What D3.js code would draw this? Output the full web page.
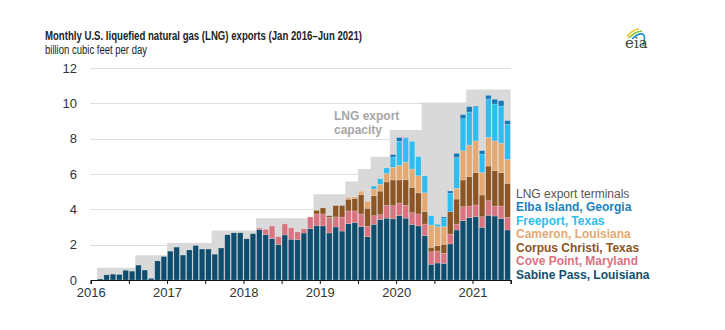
<!DOCTYPE html>
<html>
<head>
<meta charset="utf-8">
<script src="https://cdn.jsdelivr.net/npm/d3@7"></script>
<style>
  body { margin: 0; background: #fff; }
  svg { display: block; }
  text { font-family: "Liberation Sans", Arial, Helvetica, sans-serif; }
</style>
</head>
<body>
<svg id="chart" width="725" height="330"></svg>
<script>
// Months Jan 2016 – Jun 2021
const months = d3.timeMonth.range(new Date(2016, 0, 1), new Date(2021, 6, 1)).map(d3.timeFormat("%Y-%m"));

// Exports by terminal, billion cubic feet per day
const sabinePass = [
  0.00, 0.06, 0.29, 0.33, 0.31, 0.55, 0.50, 0.84, 0.56, 0.09, 1.08, 1.33,
  1.63, 1.86, 1.41, 1.70, 1.95, 1.75, 1.75, 1.46, 1.81, 2.56, 2.67, 2.67,
  2.33, 2.62, 2.86, 2.57, 2.34, 2.01, 2.55, 2.31, 2.28, 2.66, 2.91, 3.08,
  3.06, 2.66, 3.00, 2.77, 3.19, 3.25, 3.02, 2.45, 3.15, 3.43, 3.50, 3.46,
  3.65, 3.50, 3.14, 3.06, 2.51, 0.89, 0.96, 0.94, 2.04, 2.83, 3.36, 3.53,
  3.58, 2.98, 3.66, 3.62, 3.47, 2.83
];
const covePoint = [
  0, 0, 0, 0, 0, 0, 0, 0, 0, 0, 0, 0,
  0, 0, 0, 0, 0, 0, 0, 0, 0, 0, 0, 0,
  0, 0, 0.08, 0.29, 0.72, 0.44, 0.62, 0.64, 0.44, 0.23, 0.66, 0.66,
  0.68, 0.89, 0.57, 0.79, 0.72, 0.66, 0.72, 0.59, 0.49, 0.27, 0.72, 0.75,
  0.71, 0.73, 0.67, 0.68, 0.66, 0.71, 0.68, 0.57, 0.56, 0.34, 0.79, 0.66,
  0.67, 0.60, 0.83, 0.57, 0.72, 0.72
];
const corpusChristi = [
  0, 0, 0, 0, 0, 0, 0, 0, 0, 0, 0, 0,
  0, 0, 0, 0, 0, 0, 0, 0, 0, 0, 0, 0,
  0, 0, 0, 0, 0, 0, 0, 0, 0, 0, 0, 0.20,
  0.34, 0.09, 0.64, 0.65, 0.66, 0.71, 1.09, 1.02, 1.13, 1.33, 1.33, 1.45,
  1.30, 1.44, 1.43, 1.19, 0.70, 0.25, 0.30, 0.51, 1.27, 1.41, 1.51, 1.66,
  1.83, 1.23, 1.96, 2.00, 1.89, 1.92
];
const cameron = [
  0, 0, 0, 0, 0, 0, 0, 0, 0, 0, 0, 0,
  0, 0, 0, 0, 0, 0, 0, 0, 0, 0, 0, 0,
  0, 0, 0, 0, 0, 0, 0, 0, 0, 0, 0, 0,
  0, 0, 0, 0, 0.09, 0.08, 0.19, 0.39, 0.38, 0.39, 0.48, 0.72,
  0.83, 1.00, 1.04, 0.97, 1.07, 1.26, 1.08, 1.00, 0.00, 0.61, 1.66, 1.79,
  1.79, 1.27, 1.63, 1.68, 1.66, 1.36
];
const freeport = [
  0, 0, 0, 0, 0, 0, 0, 0, 0, 0, 0, 0,
  0, 0, 0, 0, 0, 0, 0, 0, 0, 0, 0, 0,
  0, 0, 0, 0, 0, 0, 0, 0, 0, 0, 0, 0,
  0, 0, 0, 0, 0, 0, 0, 0, 0.17, 0.31, 0.31, 0.58,
  1.37, 1.37, 1.57, 1.08, 0.95, 0.53, 0.13, 0.49, 1.04, 1.75, 1.81, 1.87,
  1.94, 1.05, 2.17, 2.09, 2.11, 1.98
];
const elbaIsland = [
  0, 0, 0, 0, 0, 0, 0, 0, 0, 0, 0, 0,
  0, 0, 0, 0, 0, 0, 0, 0, 0, 0, 0, 0,
  0, 0, 0, 0, 0, 0, 0, 0, 0, 0, 0, 0,
  0, 0, 0, 0, 0, 0, 0, 0, 0, 0, 0, 0.14,
  0.20, 0.02, 0, 0, 0, 0, 0, 0.06, 0.13, 0.23, 0.23, 0.30,
  0.04, 0.19, 0.20, 0.27, 0.30, 0.21
];

// Export capacity: month in which each level begins
const capacityStartMonths = ["2016-02", "2016-08", "2017-01", "2017-08", "2018-03", "2018-12",
                             "2019-05", "2019-07", "2019-09", "2019-12", "2020-05", "2020-12"];
const capacityLevels = [0.7, 1.4, 2.1, 2.8, 3.5, 4.85, 5.57, 6.28, 6.98, 8.49, 10.05, 10.79];

const yTickValues = [0, 2, 4, 6, 8, 10, 12];
const yearLabels = ["2016", "2017", "2018", "2019", "2020", "2021"];

const terminals = [
  { key: "sabine",  name: "Sabine Pass, Louisiana", values: sabinePass,    color: "#0e4d6d", text: "#124f6e" },
  { key: "cove",    name: "Cove Point, Maryland",   values: covePoint,     color: "#d9737f", text: "#d9737f" },
  { key: "corpus",  name: "Corpus Christi, Texas",  values: corpusChristi, color: "#8c5523", text: "#8c5523" },
  { key: "cameron", name: "Cameron, Louisiana",     values: cameron,       color: "#e4a971", text: "#e4a971" },
  { key: "freeport",name: "Freeport, Texas",        values: freeport,      color: "#30bcf0", text: "#30bcf0" },
  { key: "elba",    name: "Elba Island, Georgia",   values: elbaIsland,    color: "#1479b5", text: "#1a7fbe" }
];

(function drawChart() {
  const svg = d3.select("#chart");
  const plotLeft = 90.7, plotRight = 510.7, plotTop = 68, plotBottom = 280;

  const y = d3.scaleLinear().domain([0, 12]).range([plotBottom, plotTop]);
  const x = d3.scaleBand().domain(months).range([plotLeft, plotRight]).paddingInner(0.14).paddingOuter(0.07);
  const capX = d3.scaleBand().domain(months).range([plotLeft, plotRight]).padding(0);
  const monthAxis = d3.scaleLinear().domain([0, months.length]).range([plotLeft, plotRight]);

  // Title
  svg.append("text")
    .attr("x", 45).attr("y", 40)
    .attr("textLength", 317).attr("lengthAdjust", "spacingAndGlyphs")
    .style("font-family", '"Liberation Sans Narrow", "Arial Narrow", "Liberation Sans", Arial, sans-serif')
    .style("font-weight", "bold").style("font-size", "12.5px").attr("fill", "#222")
    .text("Monthly U.S. liquefied natural gas (LNG) exports (Jan 2016\u2013Jun 2021)");
  svg.append("text")
    .attr("x", 45).attr("y", 54)
    .attr("textLength", 102).attr("lengthAdjust", "spacingAndGlyphs")
    .style("font-family", '"Liberation Sans Narrow", "Arial Narrow", "Liberation Sans", Arial, sans-serif')
    .style("font-size", "12.5px").attr("fill", "#222")
    .text("billion cubic feet per day");

  // Gridlines
  svg.append("g")
    .selectAll("line")
    .data(yTickValues.filter(v => v > 0))
    .join("line")
    .attr("x1", plotLeft - 0.7).attr("x2", plotRight)
    .attr("y1", d => Math.round(y(d)) + 0.5).attr("y2", d => Math.round(y(d)) + 0.5)
    .attr("stroke", "#dedede").attr("stroke-width", 1);

  // Y axis labels
  const yAxis = d3.axisLeft(y).tickValues(yTickValues).tickSize(0).tickPadding(13);
  const gy = svg.append("g").attr("transform", `translate(${plotLeft - 0.7},0)`).call(yAxis);
  gy.select(".domain").remove();
  gy.selectAll("text").style("font-size", "13px").attr("fill", "#333")
    .style("font-family", '"Liberation Sans", Arial, sans-serif');

  // Capacity band
  const capPoints = capacityStartMonths.map((m, k) => [capX(m), capacityLevels[k]]);
  capPoints.push([plotRight, capacityLevels[capacityLevels.length - 1]]);
  svg.append("path")
    .datum(capPoints)
    .attr("fill", "#d9d9d9")
    .attr("d", d3.area().curve(d3.curveStepAfter)
      .x(d => d[0]).y0(y(0)).y1(d => y(d[1])));

  // Stacked bars
  const rows = months.map((m, i) => {
    const r = { month: m };
    terminals.forEach(t => { r[t.key] = t.values[i]; });
    return r;
  });
  const stacked = d3.stack().keys(terminals.map(t => t.key))(rows);

  svg.append("g")
    .selectAll("g")
    .data(stacked)
    .join("g")
    .attr("fill", (d, i) => terminals[i].color)
    .selectAll("rect")
    .data(d => d.filter(s => s[1] - s[0] > 0))
    .join("rect")
    .attr("x", d => x(d.data.month))
    .attr("width", x.bandwidth())
    .attr("y", d => y(d[1]))
    .attr("height", d => y(d[0]) - y(d[1]))
    .attr("stroke", "#ffffff").attr("stroke-opacity", 0.3).attr("stroke-width", 0.6);

  // X axis
  const xAxis = d3.axisBottom(monthAxis)
    .tickValues(d3.range(0, months.length + 1, 6))
    .tickSize(4).tickPadding(4)
    .tickFormat(i => i % 12 === 0 ? yearLabels[i / 12] : "");
  const gx = svg.append("g").attr("transform", `translate(0,${plotBottom})`).call(xAxis);
  gx.select(".domain").attr("stroke", "#111").attr("stroke-width", 1.2);
  gx.selectAll(".tick line").attr("stroke", "#111");
  gx.selectAll("text").style("font-size", "13px").attr("fill", "#333")
    .style("font-family", '"Liberation Sans", Arial, sans-serif');

  // Capacity annotation
  const note = svg.append("g").style("font-size", "12px").style("font-weight", "bold").attr("fill", "#a6a6a6");
  note.append("text").attr("x", 334).attr("y", 120).text("LNG export");
  note.append("text").attr("x", 334).attr("y", 133.5).text("capacity");

  // Legend
  const legend = svg.append("g").style("font-size", "12px");
  legend.append("text").attr("x", 516).attr("y", 197.5).attr("fill", "#555").text("LNG export terminals");
  terminals.slice().reverse().forEach((t, i) => {
    legend.append("text")
      .attr("x", 516).attr("y", 211 + i * 13.6)
      .style("font-weight", "bold").attr("fill", t.text)
      .text(t.name);
  });

  // eia mark
  const logo = svg.append("g").attr("transform", "translate(623,28)");
  logo.append("path").attr("d", "M4,9 Q8,2 16,1").attr("fill", "none").attr("stroke", "#f2c522").attr("stroke-width", 1.6);
  logo.append("path").attr("d", "M6,10 Q11,4 19,3").attr("fill", "none").attr("stroke", "#8cc63f").attr("stroke-width", 1.6);
  logo.append("path").attr("d", "M9,11 Q15,5 20,6 Q23,9 20,18").attr("fill", "none").attr("stroke", "#1c8fd0").attr("stroke-width", 1.6);
  logo.append("text").attr("x", 2).attr("y", 20)
    .style("font-family", '"DejaVu Serif", "Liberation Serif", serif').style("font-size", "15px")
    .attr("fill", "#444").text("eia");
})();
</script>
</body>
</html>
